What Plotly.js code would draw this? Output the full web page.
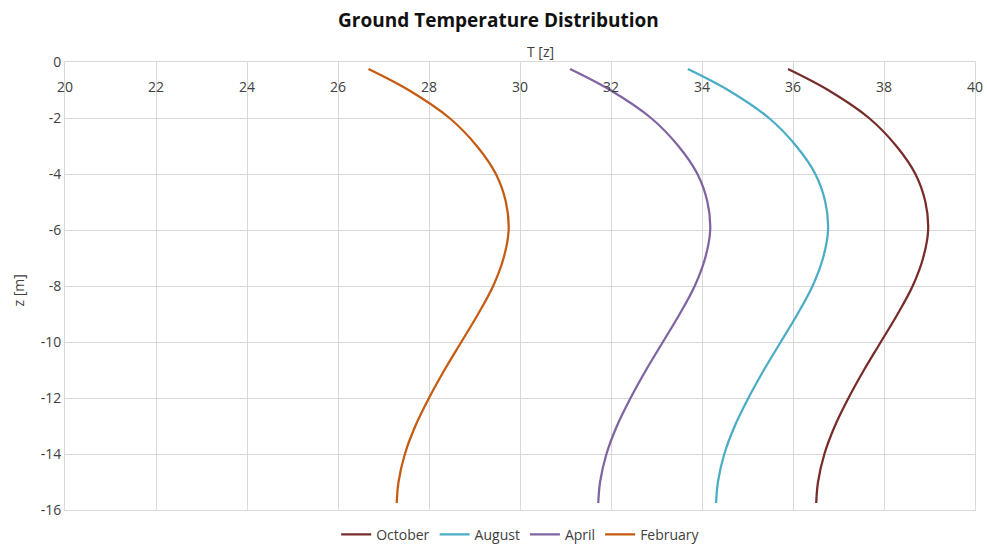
<!DOCTYPE html>
<html>
<head>
<meta charset="utf-8">
<script src="https://cdn.plot.ly/plotly-3.0.1.min.js"></script>
<style>html,body{margin:0;padding:0;background:#fff;}#chart{width:987px;height:544px;}</style>
</head>
<body>
<div id="chart"></div>
<script>
const depth = [-0.25, -1, -2, -3, -4, -5, -6, -7, -8, -9, -10, -11, -12, -13, -14, -15, -15.75];
const october = [35.89, 36.77, 37.67, 38.27, 38.69, 38.91, 38.97, 38.86, 38.63, 38.30, 37.93, 37.56, 37.22, 36.92, 36.69, 36.55, 36.51];
const august = [33.69, 34.57, 35.47, 36.07, 36.49, 36.71, 36.77, 36.66, 36.43, 36.10, 35.73, 35.36, 35.02, 34.72, 34.49, 34.35, 34.31];
const april = [31.10, 31.98, 32.88, 33.48, 33.90, 34.12, 34.18, 34.07, 33.84, 33.51, 33.14, 32.77, 32.43, 32.13, 31.90, 31.76, 31.72];
const february = [26.67, 27.55, 28.45, 29.05, 29.47, 29.69, 29.75, 29.64, 29.41, 29.08, 28.71, 28.34, 28.00, 27.70, 27.47, 27.33, 27.29];
const seriesNames = ["October", "August", "April", "February"];
const seriesValues = [october, august, april, february];
const seriesColors = ["#772C2A", "#4BACC6", "#8064A2", "#C55A11"];
const xTicks = [20, 22, 24, 26, 28, 30, 32, 34, 36, 38, 40];
const yTicks = [0, -2, -4, -6, -8, -10, -12, -14, -16];

const traces = seriesNames.map((n, i) => ({
  type: "scatter", mode: "lines", name: n,
  x: seriesValues[i], y: depth,
  line: {color: seriesColors[i], width: 2.25, shape: "spline", smoothing: 1},
  hoverinfo: "x+y+name"
}));

const ff = "'Open Sans', 'DejaVu Sans', sans-serif";
const layout = {
  width: 987, height: 544,
  margin: {l: 65, r: 12, t: 62, b: 34, autoexpand: false},
  paper_bgcolor: "#fff", plot_bgcolor: "#fff",
  font: {family: ff, color: "#404040", size: 14},
  title: {text: "<b>Ground Temperature Distribution</b>", x: 0.505, xanchor: "center", y: 0.963, yanchor: "middle",
          font: {family: ff, size: 19, color: "#111"}},
  xaxis: {
    side: "top", range: [20, 40], tickvals: xTicks, ticktext: xTicks.map(String),
    ticklabelposition: "inside", ticklabeloverflow: "allow", ticklabelstandoff: 20, ticks: "",
    showgrid: true, gridcolor: "#D9D9D9", gridwidth: 1,
    showline: true, linecolor: "#D9D9D9", linewidth: 1, mirror: true, zeroline: false,
    tickfont: {size: 14, color: "#404040"}
  },
  yaxis: {
    range: [-16, 0], tickvals: yTicks, ticktext: yTicks.map(String), ticks: "",
    ticklabeloverflow: "allow",
    showgrid: true, gridcolor: "#D9D9D9", gridwidth: 1,
    showline: true, linecolor: "#D9D9D9", linewidth: 1, mirror: true, zeroline: false,
    tickfont: {size: 14, color: "#404040"}
  },
  annotations: [
    {text: "T [z]", xref: "paper", yref: "paper", x: 0.523, y: 1, xanchor: "center", yanchor: "bottom", yshift: -1,
     showarrow: false, font: {size: 14, color: "#404040"}},
    {text: "z [m]", xref: "paper", yref: "paper", x: -0.051, y: 0.489, xanchor: "center", yanchor: "middle",
     textangle: -90, showarrow: false, font: {size: 14, color: "#404040"}}
  ],
  showlegend: true,
  legend: {orientation: "h", xref: "paper", x: 0.298, xanchor: "left", yref: "container", y: 0.017, yanchor: "middle",
           font: {size: 14, color: "#404040"}, itemwidth: 30, bgcolor: "rgba(0,0,0,0)"}
};
Plotly.newPlot("chart", traces, layout, {displayModeBar: false, staticPlot: true});
</script>
</body>
</html>
